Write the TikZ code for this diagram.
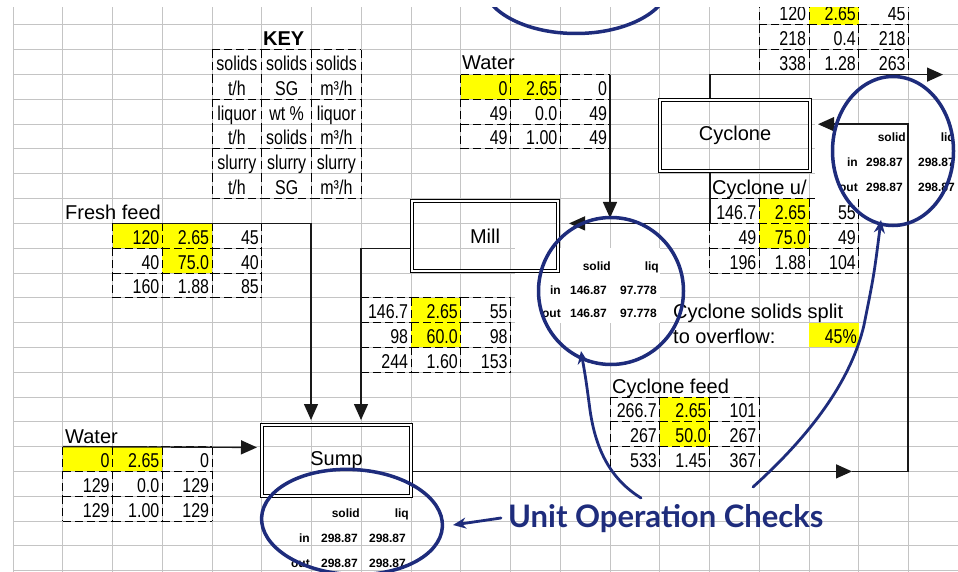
\documentclass[tikz,border=0pt]{standalone}
\usepackage{fontspec}
\setmainfont{Liberation Sans}
\newfontfamily\cellfont{Liberation Sans}[FakeStretch=0.8]
\newfontfamily\checkfont{Lato}
\usetikzlibrary{arrows.meta, positioning, calc, shapes.geometric}

\definecolor{gridgray}{RGB}{196,196,196}
\definecolor{cellyellow}{RGB}{255,255,0}
\definecolor{inkblue}{RGB}{30,44,124}

\begin{document}
\begin{tikzpicture}[
    x=1pt, y=-1pt,
    font=\fontsize{20}{22}\selectfont,
    >= {Triangle[length=16pt, width=14pt]},
    stream/.style={line width=1.4pt, black!90},
    cellborder/.style={line width=1pt, dash pattern=on 8pt off 4pt},
    unitbox/.style={draw, double, line width=1.1pt, double distance=2pt, inner sep=0pt},
    checkring/.style={ellipse, draw=inkblue, line width=3.5pt, inner sep=0pt},
    handarrow/.style={inkblue, line width=2.8pt, line cap=round, -{Stealth[length=13pt, width=11pt]}},
    cellval/.style={anchor=base east, inner sep=0pt, font=\cellfont\fontsize{20}{22}\selectfont},
    keyval/.style={anchor=base, inner sep=0pt, font=\cellfont\fontsize{20}{22}\selectfont},
    checkval/.style={anchor=base east, inner sep=0pt, font=\bfseries\fontsize{12}{13}\selectfont},
    sheettext/.style={anchor=base west, inner sep=0pt},
    ]

    % Column / row index to sheet position
    \newcommand{\colx}[1]{13+49.75*(#1)}
    \newcommand{\rowy}[1]{25+24.8*(#1)}

    % Yellow input cell
    \newcommand{\hicell}[2]{
        \fill[cellyellow] ({\colx{#1}},{\rowy{#2}}) rectangle ++(49.75,24.8);
    }

    % Define a macro to draw a 3x3 stream table with dashed cell borders
    \newcommand{\streamtable}[4]{
        % #1 name, #2 first column, #3 first row, #4 the nine values
        \foreach \val [count=\k from 0] in {#4} {
            \pgfmathtruncatemacro{\ci}{mod(\k,3)}
            \pgfmathtruncatemacro{\ri}{div(\k,3)}
            \pgfmathsetmacro{\xl}{\colx{#2+\ci}}
            \pgfmathsetmacro{\yt}{\rowy{#3+\ri}}
            \draw[cellborder] (\xl,\yt) -- ++(49.75,0);
            \draw[cellborder] (\xl,\yt) -- ++(0,24.8);
            \node[cellval] (#1-\k) at ({\xl+47},{\yt+20.8}) {\val};
        }
        \foreach \i in {0,1,2} {
            \draw[cellborder] ({\colx{#2+3}},{\rowy{#3+\i}}) -- ++(0,24.8);
            \draw[cellborder] ({\colx{#2+\i}},{\rowy{#3+3}}) -- ++(49.75,0);
        }
        % Anchor coordinates for the stream lines
        \coordinate (#1-nw) at ({\colx{#2}},{\rowy{#3}});
        \coordinate (#1-ne) at ({\colx{#2+3}},{\rowy{#3}});
    }

    \useasboundingbox (0,0) rectangle (958,572);
    \begin{scope}
    \clip (13,8) rectangle (958,572);

    % ==========================================
    % Sheet grid
    % ==========================================
    \foreach \c in {0,...,19}
        \draw[gridgray, line width=1pt] ({\colx{\c}},0) -- ({\colx{\c}},572);
    \foreach \r in {0,...,22}
        \draw[gridgray, line width=1pt] (0,{\rowy{\r}}) -- (958,{\rowy{\r}});

    % ==========================================
    % Stream tables
    % ==========================================
    \foreach \c/\r in {16/-1, 9/2, 10/2, 2/8, 3/8, 3/9, 8/11, 8/12, 15/7, 15/8, 13/15, 13/16, 1/17, 2/17, 16/12} {
        \hicell{\c}{\r}
    }

    \streamtable{overflow}{15}{-1}{120,2.65,45,218,0.4,218,338,1.28,263}
    \streamtable{watermill}{9}{2}{0,2.65,0,49,0.0,49,49,1.00,49}
    \streamtable{fresh}{2}{8}{120,2.65,45,40,75.0,40,160,1.88,85}
    \streamtable{millout}{7}{11}{146.7,2.65,55,98,60.0,98,244,1.60,153}
    \streamtable{underflow}{14}{7}{146.7,2.65,55,49,75.0,49,196,1.88,104}
    \streamtable{cycfeed}{12}{15}{266.7,2.65,101,267,50.0,267,533,1.45,367}
    \streamtable{watersump}{1}{17}{0,2.65,0,129,0.0,129,129,1.00,129}

    % ==========================================
    % Key
    % ==========================================
    \node[font=\bfseries\fontsize{20}{22}\selectfont, sheettext] (key-title) at (263,{\rowy{1}-4}) {KEY};
    \foreach \txt [count=\k from 0] in {solids,solids,solids,t/h,SG,m³/h,liquor,wt \%,liquor,t/h,solids,m³/h,slurry,slurry,slurry,t/h,SG,m³/h} {
        \pgfmathtruncatemacro{\ci}{mod(\k,3)}
        \pgfmathtruncatemacro{\ri}{div(\k,3)}
        \pgfmathsetmacro{\xl}{\colx{4+\ci}}
        \pgfmathsetmacro{\yt}{\rowy{1+\ri}}
        \draw[cellborder] (\xl,\yt) -- ++(0,24.8);
        \node[keyval] (key-\k) at ({\xl+24.9},{\yt+20.8}) {\txt};
    }
    \foreach \b in {0,1,2,3} {
        \foreach \i in {0,1,2} {
            \draw[cellborder] ({\colx{4+\i}},{\rowy{1+2*\b}}) -- ++(49.75,0);
        }
    }
    \foreach \r in {1,...,6} {
        \draw[cellborder] ({\colx{7}},{\rowy{\r}}) -- ++(0,24.8);
    }

    % ==========================================
    % Labels
    % ==========================================
    \node[sheettext] (fresh-label) at (65,219) {Fresh feed};
    \node[sheettext] (watersump-label) at (65,443) {Water};
    \node[sheettext] (watermill-label) at (462,70) {Water};
    \node[sheettext] (underflow-label) at (712,195) {Cyclone u/};
    \node[sheettext] (cycfeed-label) at (612,393) {Cyclone feed};
    \node[sheettext] (split-label) at (673,318.6) {Cyclone solids split};
    \node[sheettext] (split-label2) at (673,343.4) {to overflow:};
    \node[cellval] (split-value) at (857,343.4) {45\%};

    % ==========================================
    % Balance check tables
    % ==========================================
    \fill[white] (815,124.2) rectangle (958,198.6);
    \fill[white] (515,248.2) rectangle (660,322.6);
    \foreach \txt/\x/\y [count=\k] in {solid/611/270, liq/659/270, in/561/294, 146.87/607/294, 97.778/657/294, out/561/317, 146.87/607/317, 97.778/657/317} {
        \node[checkval] (millcheck-\k) at (\x,\y) {\txt};
    }
    \foreach \txt/\x/\y [count=\k] in {solid/906/142, liq/955/142, in/858/167, 298.87/903/167, 298.87/955/167, out/858/192, 298.87/903/192, 298.87/955/192} {
        \node[checkval] (cyccheck-\k) at (\x,\y) {\txt};
    }
    \foreach \txt/\x/\y [count=\k] in {solid/360/517, liq/409/517, in/310/542, 298.87/358/542, 298.87/406/542, out/310/567, 298.87/358/567, 298.87/406/567} {
        \node[checkval] (sumpcheck-\k) at (\x,\y) {\txt};
    }

    % ==========================================
    % Unit operations
    % ==========================================
    \node[unitbox, minimum width=146pt, minimum height=70pt] (mill) at (485,236) {Mill};
    \node[unitbox, minimum width=149pt, minimum height=71pt] (sump) at (336.5,460.5) {Sump};
    \node[unitbox, minimum width=150pt, minimum height=71pt] (cyclone) at (735,135.5) {Cyclone};

    % ==========================================
    % Stream lines
    % ==========================================
    \coordinate (sump-in1) at (311,420);
    \coordinate (sump-in2) at (361,420);
    \coordinate (sump-in3) at (257,447.4);
    \coordinate (mill-out) at (410,248.2);
    \coordinate (sump-out) at (413,471.4);
    \coordinate (loop-arrow) at (852,471.4);
    \coordinate (loop-corner) at (908,124.2);
    \coordinate (cyc-in) at (818,124.2);
    \coordinate (cyc-top) at (710,98);
    \coordinate (overflow-end) at (943,74.6);
    \coordinate (cyc-bottom) at (710,173);
    \coordinate (mill-in) at (569,223.4);
    \coordinate (mill-feed) at (610,218);

    \draw[stream, ->] (fresh-nw) -| (sump-in1);
    \draw[stream, ->] (mill-out) -| (sump-in2);
    \draw[stream, ->] (watersump-nw) -- (sump-in3);
    \draw[stream, ->] (sump-out) -- (loop-arrow);
    \draw[stream, ->] (loop-arrow) -| (loop-corner) -- (cyc-in);
    \draw[stream, ->] (cyc-top) |- (overflow-end);
    \draw[stream, ->] (cyc-bottom) |- (mill-in);
    \draw[stream, ->] (watermill-ne) -- (mill-feed);

    % ==========================================
    % Hand-drawn checks
    % ==========================================
    \node[checkring, minimum width=187pt, minimum height=103pt] (top-ring) at (576,-18) {};
    \node[checkring, minimum width=145pt, minimum height=147pt] (mill-ring) at (611,291) {};
    \node[checkring, minimum width=121pt, minimum height=149pt] (cyc-ring) at (893,151) {};
    \node[checkring, minimum width=181pt, minimum height=105pt, rotate=-3] (sump-ring) at (352,522) {};

    \node[font=\checkfont\bfseries\fontsize{31}{33}\selectfont, text=inkblue, anchor=west, inner sep=0pt] (checks) at (508,519) {Unit Operation Checks};

    \coordinate (tail-mill) at (641,498);
    \coordinate (tip-mill) at (581,351);
    \coordinate (tail-cyc) at (753,487);
    \coordinate (tip-cyc) at (881,220);
    \coordinate (tail-sump) at (501,518);
    \coordinate (tip-sump) at (453,525);

    \draw[handarrow] (tail-mill) .. controls (612,480) and (596,452) .. (590,410) .. controls (586,380) .. (tip-mill);
    \draw[handarrow] (tail-cyc) .. controls (805,440) and (850,385) .. (864,325) .. controls (874,275) .. (tip-cyc);
    \draw[handarrow] (tail-sump) -- (tip-sump);

    \end{scope}

\end{tikzpicture}
\end{document}
